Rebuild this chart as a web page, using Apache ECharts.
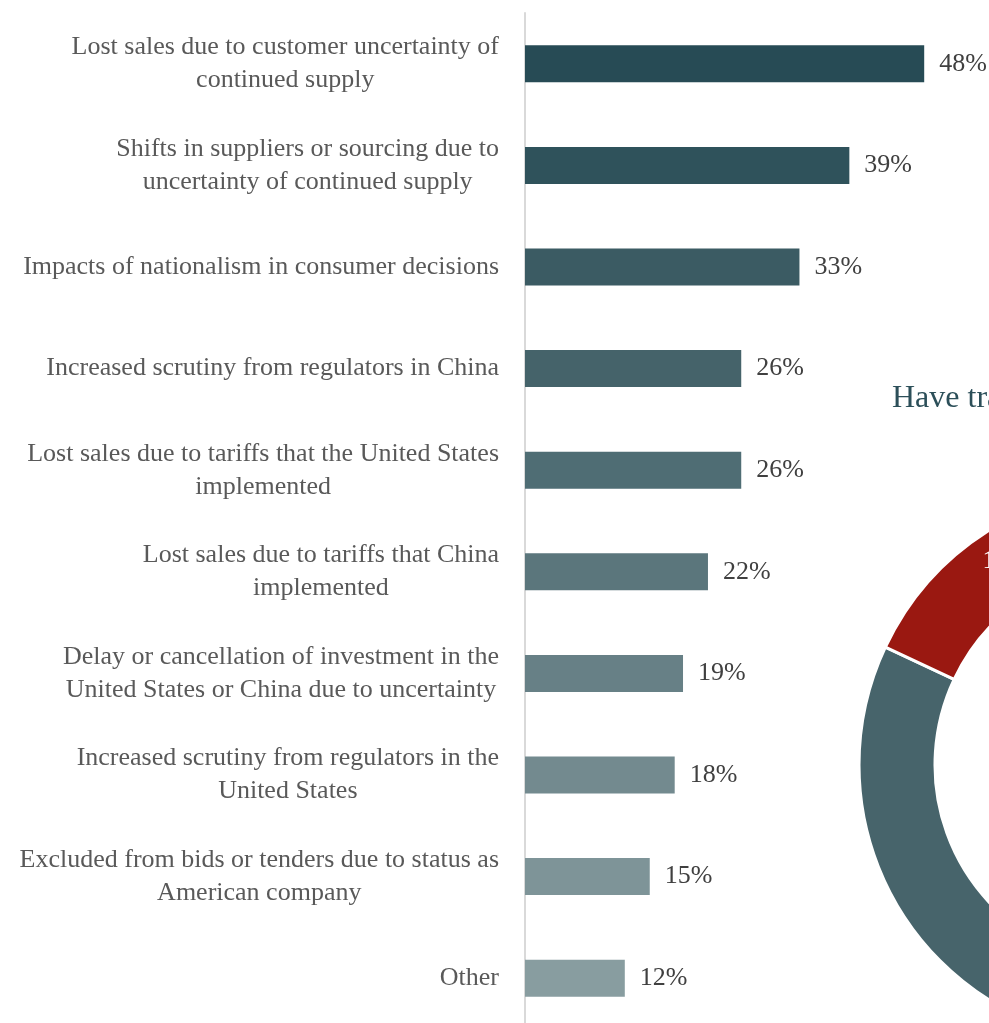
<!DOCTYPE html>
<html>
<head>
<meta charset="utf-8">
<script src="https://cdn.jsdelivr.net/npm/echarts@6/dist/echarts.min.js"></script>
<style>
  html, body { margin: 0; padding: 0; background: #ffffff; }
  #chart { width: 989px; height: 1023px; }
</style>
</head>
<body>
<div id="chart"></div>
<script>
// Impacts reported by companies, share of respondents (%)
const categories = [
  'Lost sales due to customer uncertainty of\ncontinued supply',
  'Shifts in suppliers or sourcing due to\nuncertainty of continued supply',
  'Impacts of nationalism in consumer decisions',
  'Increased scrutiny from regulators in China',
  'Lost sales due to tariffs that the United States\nimplemented',
  'Lost sales due to tariffs that China\nimplemented',
  'Delay or cancellation of investment in the\nUnited States or China due to uncertainty',
  'Increased scrutiny from regulators in the\nUnited States',
  'Excluded from bids or tenders due to status as\nAmerican company',
  'Other'
];
const values = [48, 39, 33, 26, 26, 22, 19, 18, 15, 12];
const barColors = [
  '#274b55', '#2f525b', '#3b5b63', '#45636a', '#4f6d74',
  '#5b767c', '#678086', '#738a8f', '#7e9498', '#889da0'
];

// Donut: share of companies answering the question
const donutTitle = 'Have trade tensions impacted your company?';
const donutNames = ['No', 'Yes'];
const donutValues = [82, 18];
const donutColors = ['#47646b', '#9a1811'];

const serif = '"Liberation Serif", "DejaVu Serif", serif';

const chart = echarts.init(document.getElementById('chart'));
chart.setOption({
  animation: false,
  textStyle: { fontFamily: serif },
  title: {
    text: donutTitle,
    left: 892,
    top: 383,
    padding: 0,
    textStyle: { fontFamily: serif, fontSize: 32, fontWeight: 'normal', color: '#2c4f59' }
  },
  grid: {
    left: 525, top: 13, width: 499, bottom: -6,
    containLabel: false,
    outerBoundsMode: 'none'
  },
  xAxis: {
    type: 'value', min: 0, max: 60,
    show: false
  },
  yAxis: {
    type: 'category',
    inverse: true,
    data: categories,
    axisLine: { show: true, lineStyle: { color: '#d9d9d9', width: 2 } },
    axisTick: { show: false },
    axisLabel: {
      margin: 26,
      color: '#595959',
      fontFamily: serif,
      fontSize: 26,
      lineHeight: 33,
      formatter: v => v.split('\n').map(l => '{c|' + l + '}').join('\n'),
      rich: { c: { align: 'center', fontSize: 26, lineHeight: 33, color: '#595959', fontFamily: serif } }
    }
  },
  series: [
    {
      type: 'bar',
      data: values.map((v, i) => ({ value: v, itemStyle: { color: barColors[i] } })),
      barWidth: 37,
      label: {
        show: true,
        position: 'right',
        distance: 15,
        formatter: '{c}%',
        color: '#404040',
        fontFamily: serif,
        fontSize: 26
      }
    },
    {
      type: 'pie',
      center: [1136, 765],
      radius: [201, 277],
      startAngle: 90,
      clockwise: true,
      data: donutNames.map((n, i) => ({ name: n, value: donutValues[i], itemStyle: { color: donutColors[i] } })),
      itemStyle: { borderColor: '#ffffff', borderWidth: 3 },
      label: {
        show: true,
        position: 'inside',
        formatter: '{c}%',
        color: '#ffffff',
        fontFamily: serif,
        fontSize: 26
      },
      labelLine: { show: false },
      emphasis: { disabled: true }
    }
  ]
});
</script>
</body>
</html>
